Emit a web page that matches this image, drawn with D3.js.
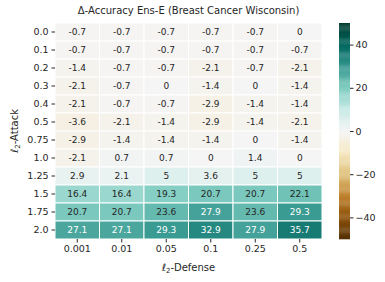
<!DOCTYPE html>
<html>
<head>
<meta charset="utf-8">
<script src="https://cdn.jsdelivr.net/npm/d3@7"></script>
<style>
  body { margin: 0; background: #fff; }
  text { font-family: 'DejaVu Sans', sans-serif; fill: #262626; }
  .axis path { display: none; }
  .axis line { stroke: #262626; }
</style>
</head>
<body>
<svg id="canvas" width="385" height="282"></svg>
<script>
const defenses = ['0.001', '0.01', '0.05', '0.1', '0.25', '0.5']
const attacks = ['0.0', '0.1', '0.2', '0.3', '0.4', '0.5', '0.75', '1.0', '1.25', '1.5', '1.75', '2.0']

// one row per attack strength, one value per defense
const deltaAcc = [
    [-0.7, -0.7, -0.7, -0.7, -0.7, 0],
    [-0.7, -0.7, -0.7, -0.7, -0.7, -0.7],
    [-1.4, -0.7, -0.7, -2.1, -0.7, -2.1],
    [-2.1, -0.7, 0, -1.4, 0, -1.4],
    [-2.1, -0.7, -0.7, -2.9, -1.4, -1.4],
    [-3.6, -2.1, -1.4, -2.9, -1.4, -2.1],
    [-2.9, -1.4, -1.4, -1.4, 0, -1.4],
    [-2.1, 0.7, 0.7, 0, 1.4, 0],
    [2.9, 2.1, 5, 3.6, 5, 5],
    [16.4, 16.4, 19.3, 20.7, 20.7, 22.1],
    [20.7, 20.7, 23.6, 27.9, 23.6, 29.3],
    [27.1, 27.1, 29.3, 32.9, 27.9, 35.7]
]
const colorTicks = [-40, -20, 0, 20, 40]

const m = { left: 55, right: 322, top: 23, bottom: 239 }

// BrBG as matplotlib builds it (linear between the 11 brewer stops)
const brbg = ['#543005', '#8c510a', '#bf812d', '#dfc27d', '#f6e8c3', '#f5f5f5',
    '#c7eae5', '#80cdc1', '#35978f', '#01665e', '#003c30']
const color = d3.scaleLinear()
    .domain(d3.range(11).map(i => -50 + i * 10))
    .range(brbg)
    .interpolate(d3.interpolateRgb)
    .clamp(true)

const x = d3.scaleBand().domain(defenses).range([m.left, m.right])
const y = d3.scaleBand().domain(attacks).range([m.top, m.bottom])

const svg = d3.select('#canvas')

const cells = deltaAcc.flatMap((row, i) => row.map((v, j) => ({ a: attacks[i], d: defenses[j], v })))

function lum(c) {
    const rgb = d3.rgb(c)
    const f = u => { u /= 255; return u <= 0.03928 ? u / 12.92 : Math.pow((u + 0.055) / 1.055, 2.4) }
    return 0.2126 * f(rgb.r) + 0.7152 * f(rgb.g) + 0.0722 * f(rgb.b)
}

const cell = svg.append('g').selectAll('g')
    .data(cells)
    .enter().append('g')

cell.append('rect')
    .attr('x', d => x(d.d))
    .attr('y', d => y(d.a))
    .attr('width', x.bandwidth())
    .attr('height', y.bandwidth())
    .attr('fill', d => color(d.v))
    .attr('stroke', '#fff')
    .attr('stroke-width', 1)

cell.append('text')
    .attr('x', d => x(d.d) + x.bandwidth() / 2)
    .attr('y', d => y(d.a) + y.bandwidth() / 2)
    .attr('dy', '0.35em')
    .attr('text-anchor', 'middle')
    .style('font-size', '9px')
    .style('fill', d => lum(color(d.v)) > 0.408 ? '#262626' : '#fff')
    .text(d => String(d.v))

// Axes
const xAxis = svg.append('g').classed('axis', true)
    .attr('transform', `translate(0,${m.bottom})`)
    .call(d3.axisBottom(x).tickSize(3.5).tickPadding(3))
xAxis.selectAll('text').style('font-size', '9.5px')

const yAxis = svg.append('g').classed('axis', true)
    .attr('transform', `translate(${m.left},0)`)
    .call(d3.axisLeft(y).tickSize(3.5).tickPadding(3))
yAxis.selectAll('text').style('font-size', '9.5px')

svg.append('text')
    .attr('x', (m.left + m.right) / 2)
    .attr('y', 14)
    .attr('text-anchor', 'middle')
    .style('font-size', '10px')
    .text('Δ-Accuracy Ens-E (Breast Cancer Wisconsin)')

const xl = svg.append('text')
    .attr('x', (m.left + m.right) / 2)
    .attr('y', 271)
    .attr('text-anchor', 'middle')
    .style('font-size', '10px')
xl.append('tspan').text('ℓ')
xl.append('tspan').attr('dy', 2).style('font-size', '7px').text('2')
xl.append('tspan').attr('dy', -2).text('-Defense')

const yl = svg.append('text')
    .attr('transform', `translate(18,${(m.top + m.bottom) / 2}) rotate(-90)`)
    .attr('text-anchor', 'middle')
    .style('font-size', '10px')
yl.append('tspan').text('ℓ')
yl.append('tspan').attr('dy', 2).style('font-size', '7px').text('2')
yl.append('tspan').attr('dy', -2).text('-Attack')

// Colorbar
const cb = { x: 339, w: 11 }
const cScale = d3.scaleLinear().domain([-50, 50]).range([m.bottom, m.top])
const steps = d3.range(-50, 50, 0.5)
svg.append('g').selectAll('rect')
    .data(steps)
    .enter().append('rect')
    .attr('x', cb.x)
    .attr('y', d => cScale(d + 0.5))
    .attr('width', cb.w)
    .attr('height', d => cScale(d) - cScale(d + 0.5) + 0.3)
    .attr('fill', d => color(d + 0.25))

const cAxis = svg.append('g').classed('axis', true)
    .attr('transform', `translate(${cb.x + cb.w},0)`)
    .call(d3.axisRight(cScale).tickValues(colorTicks).tickSize(3.5).tickPadding(2))
cAxis.selectAll('text').style('font-size', '9.5px')
</script>
</body>
</html>
